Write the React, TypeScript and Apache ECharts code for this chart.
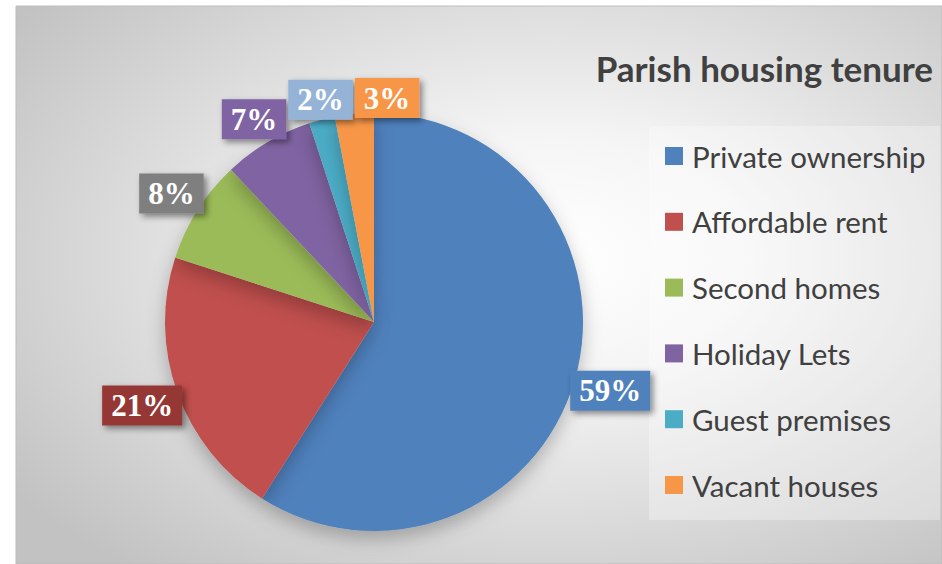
import React, { useEffect, useRef } from "react";
import * as echarts from "echarts";

const categories = [
  "Private ownership",
  "Affordable rent",
  "Second homes",
  "Holiday Lets",
  "Guest premises",
  "Vacant houses",
];
const shares = [59, 21, 8, 7, 2, 3];
const sliceColors = ["#4f81bd", "#c0504d", "#9bbb59", "#8064a2", "#4bacc6", "#f79646"];
const labelColors = ["#4f81bd", "#953735", "#7f7f7f", "#8064a2", "#95b3d7", "#f79646"];
const titleText = "Parish housing tenure";

const W = 942;
const H = 564;
const CX = 374;
const CY = 322;
const R = 209;

export default function App() {
  const ref = useRef<HTMLDivElement>(null);
  useEffect(() => {
    document.body.style.margin = "0";
    if (!ref.current) return;
    const chart = echarts.init(ref.current, null, { renderer: "svg" });
    const total = shares.reduce((a, b) => a + b, 0);
    const cum: number[] = [];
    let acc = 0;
    shares.forEach((v) => {
      cum.push(acc);
      acc += v;
    });
    let placed: { x: number; y: number; w: number; h: number }[] = [];

    const labelLayout = (p: any) => {
      const i = p.dataIndex;
      if (i === 0) placed = [];
      const mid = ((cum[i] + shares[i] / 2) / total) * Math.PI * 2;
      const dx = Math.sin(mid);
      const dy = -Math.cos(mid);
      const w = p.labelRect.width;
      const h = p.labelRect.height;
      const support = Math.abs(dx) * (w / 2) + Math.abs(dy) * (h / 2);
      const dist = R + support - 7;
      let x = CX + dist * dx;
      const y = CY + dist * dy;
      for (const b of placed) {
        const overlapY = Math.abs(b.y - y) < (b.h + h) / 2;
        const overlapX = Math.abs(b.x - x) < (b.w + w) / 2;
        if (overlapY && overlapX) {
          x = b.x + (b.w + w) / 2 + 2;
        }
      }
      placed.push({ x, y, w, h });
      return { x, y, align: "center", verticalAlign: "middle" };
    };

    chart.setOption({
      animation: false,
      graphic: [
        {
          type: "rect",
          z: 0,
          shape: { x: 16, y: 6, width: W - 16, height: H - 6 },
          style: {
            fill: {
              type: "radial",
              x: 0.58,
              y: 0.45,
              r: 0.72,
              colorStops: [
                { offset: 0, color: "#ffffff" },
                { offset: 0.3, color: "#f5f5f5" },
                { offset: 1, color: "#c2c2c2" },
              ],
            },
            stroke: "#bdbdbd",
            lineWidth: 1,
          },
        },
        {
          type: "rect",
          z: 1,
          shape: { x: 649, y: 126, width: 291, height: 394 },
          style: { fill: "rgba(255,255,255,0.3)" },
        },
      ],
      title: {
        text: titleText,
        right: 9,
        top: 46,
        padding: 0,
        textStyle: {
          fontFamily: "Lato",
          fontWeight: "bold",
          fontSize: 35,
          lineHeight: 44,
          color: "#404040",
        },
      },
      legend: {
        orient: "vertical",
        left: 665,
        top: 140,
        padding: 0,
        icon: "rect",
        itemWidth: 18,
        itemHeight: 18,
        itemGap: 33.8,
        data: categories,
        textStyle: {
          fontFamily: "Lato",
          fontSize: 29.5,
          lineHeight: 32,
          color: "#404040",
          padding: [0, 0, 0, 4],
        },
      },
      series: [
        {
          type: "pie",
          center: [CX, CY],
          radius: R,
          startAngle: 90,
          clockwise: true,
          avoidLabelOverlap: false,
          z: 2,
          data: categories.map((name, i) => ({
            name,
            value: shares[i],
            itemStyle: { color: sliceColors[i] },
            label: { backgroundColor: labelColors[i] },
          })),
          itemStyle: {
            borderWidth: 0,
            shadowBlur: 18,
            shadowColor: "rgba(0,0,0,0.25)",
            shadowOffsetY: 8,
          },
          label: {
            show: true,
            position: "outside",
            formatter: (p: any) => p.value + "%",
            color: "#ffffff",
            fontFamily: "Liberation Serif",
            fontWeight: "bold",
            fontSize: 31,
            lineHeight: 30,
            padding: [5, 9, 5, 9],
            shadowBlur: 6,
            shadowColor: "rgba(0,0,0,0.45)",
            shadowOffsetX: 3,
            shadowOffsetY: 3,
          },
          labelLine: { show: false },
          labelLayout,
          emphasis: { disabled: true },
        },
      ],
    });
    return () => chart.dispose();
  }, []);
  return <div ref={ref} style={{ width: W, height: H }} />;
}
